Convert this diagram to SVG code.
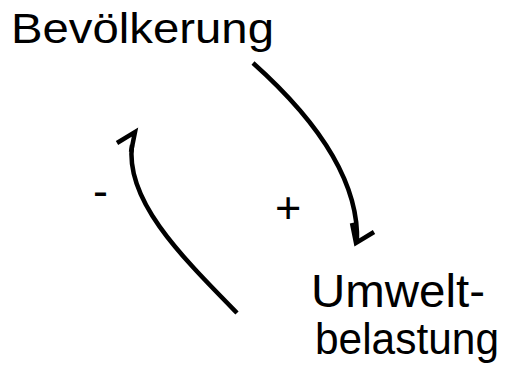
<svg xmlns="http://www.w3.org/2000/svg" width="505" height="368" viewBox="0 0 505 368">
<style>
  text { font-family: "Liberation Sans", Arial, sans-serif; fill: #000; }
  .lbl { font-size: 45px; }
  .arr { fill: none; stroke: #000; stroke-width: 4.5; stroke-linecap: butt; stroke-linejoin: miter; }
</style>
<rect width="505" height="368" fill="#fff"/>
<g id="bevoelkerung">
  <text class="lbl" x="11" y="42.5" textLength="263" lengthAdjust="spacingAndGlyphs" style="font-size:42px">Bevölkerung</text>
</g>
<g id="umweltbelastung">
  <text class="lbl" x="311" y="307" textLength="174" lengthAdjust="spacingAndGlyphs" style="font-size:46px">Umwelt-</text>
  <text class="lbl" x="315" y="354" textLength="184" lengthAdjust="spacingAndGlyphs">belastung</text>
</g>
<g id="connectors">
  <path class="arr" d="M253,63 C300,105 360,170 357,243"/>
  <path class="arr" d="M352,223 L356,243 L374,232"/>
  <path class="arr" d="M237,313 C180,255 125,200 132,145"/>
  <path class="arr" d="M131,152 L135,132 L117,143"/>
</g>
<g id="signs">
  <text class="lbl" x="93" y="206">-</text>
  <text class="lbl" x="275" y="223">+</text>
</g>
</svg>
